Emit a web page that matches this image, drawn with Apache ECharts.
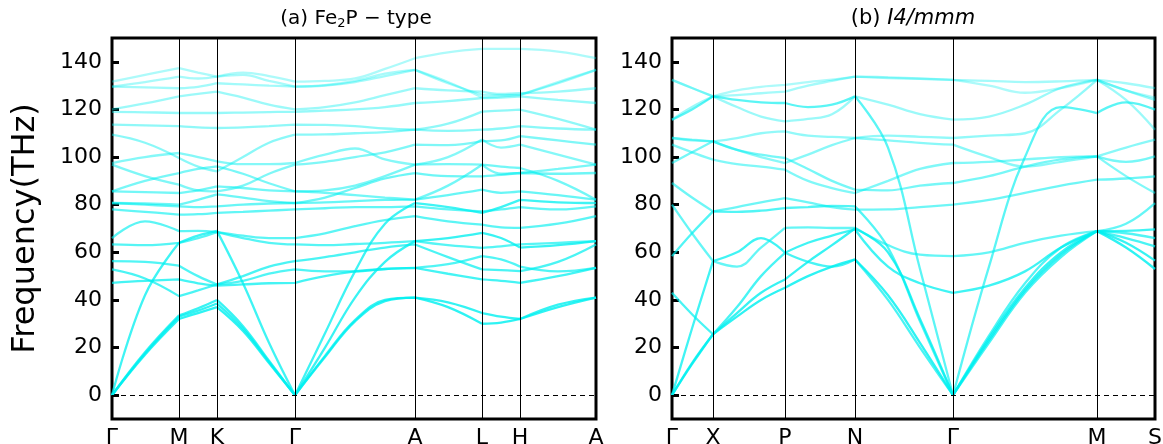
<!DOCTYPE html>
<html><head><meta charset="utf-8">
<script src="https://cdn.jsdelivr.net/npm/echarts@6/dist/echarts.min.js"></script>
<style>html,body{margin:0;padding:0;background:#fff}#c{width:1163px;height:444px}</style>
</head><body><div id="c"></div>
<script>
// ---- data ----
const yTicks = [0, 20, 40, 60, 80, 100, 120, 140];

const leftKLabels = ['Γ', 'M', 'K', 'Γ', 'A', 'L', 'H', 'A'];
const leftKPos = [0, 67, 105, 183, 303, 370, 408, 484];
const leftSampleX = [0, 33, 67, 86, 105, 131, 157, 183, 213, 243, 273, 303, 336, 370, 389, 408, 446, 484];

const lb01 = [0, 17, 32, 34.5, 37, 27, 13.5, 0, 16, 31, 39.5, 41, 37, 30, 30.5, 32, 37, 41];
const lb02 = [0, 17.5, 33, 35.5, 38.5, 28, 14, 0, 16.5, 31.5, 40, 41, 39, 34.5, 33, 32, 38, 41];
const lb03 = [0, 18, 33.5, 36.5, 40, 29, 14.5, 0, 20, 41, 56, 64.7, 66, 68.2, 66, 62, 63, 64.7];
const lb04 = [0, 42, 64, 67, 69, 47, 22, 0, 26, 52, 72, 80.7, 79, 76.6, 79, 82, 81, 80.7];
const lb05 = [47.2, 48, 48.6, 47, 46, 46.5, 47, 47.2, 50, 52, 53, 53.5, 51, 48.6, 48, 47.2, 50, 53.5];
const lb06 = [52.8, 49, 41.6, 44, 46.5, 50, 54, 56.3, 58, 60, 62, 63.3, 58, 52.8, 52.5, 52.1, 56, 63.3];
const lb07 = [56.3, 56, 54.4, 50, 46.5, 48, 51, 52.8, 52, 52, 53, 53.5, 55, 58.4, 57, 54, 52, 53.5];
const lb08 = [63.3, 63, 64, 66, 68.5, 66, 64, 63.3, 63, 63.5, 64, 64.7, 63, 61.9, 62.5, 63.3, 64, 64.7];
const lb09 = [66, 73, 68.9, 69, 68.5, 67, 66, 66, 68, 71, 73.5, 75.2, 73, 71.6, 70.5, 70.3, 72, 75.2];
const lb10 = [78, 77, 75.8, 76, 76.6, 77, 77.5, 78, 78.5, 79, 79, 79.3, 78, 77.2, 78, 79, 78, 79.3];
const lb11 = [80.7, 80, 79.3, 79, 79.3, 80, 80.5, 80.7, 81, 81.5, 82, 82.1, 84, 86.3, 85, 85.6, 84, 82.1];
const lb12 = [80.7, 80.5, 80, 82, 84.3, 83, 81.5, 80.7, 83, 87, 91, 93.3, 92, 91.9, 92.5, 93.3, 93, 93.3];
const lb13 = [85.6, 85.3, 84.9, 86, 87.7, 87, 86, 85.6, 85, 84, 83, 82.1, 88, 96.8, 96, 95.4, 90, 82.1];
const lb14 = [85.6, 90, 93.3, 95, 96.1, 93, 89, 85.6, 86, 88, 92, 96.8, 97, 96.8, 93, 93.3, 95, 96.8];
const lb15 = [96.8, 92, 88.4, 86, 85.6, 88, 93, 96.8, 98, 100, 102, 105.2, 105, 106.7, 107, 108.8, 107, 105.2];
const lb16 = [97.5, 100, 101.7, 100, 98.2, 97, 97, 97.5, 101, 103.6, 99, 96.8, 100, 107.4, 104, 105.2, 101, 96.8];
const lb17 = [109.4, 106, 99.6, 96, 94, 100, 106, 109.4, 109.5, 110, 110.5, 111.5, 111, 111.5, 112, 113, 112, 111.5];
const lb18 = [113.6, 113.3, 113, 112.5, 112.2, 112.5, 113, 113.6, 113.5, 113, 112, 111.5, 114, 119.1, 119.5, 119.9, 116, 111.5];
const lb19 = [119, 118.8, 118.5, 118.5, 118.5, 118.7, 118.9, 119, 119.5, 120, 121, 122.7, 123.5, 124.8, 125, 125.5, 124, 122.7];
const lb20 = [120, 122.5, 125.5, 126.5, 127.5, 125, 122, 120, 121, 123, 126, 128.9, 128, 127.5, 126.5, 126.8, 127.5, 128.9];
const lb21 = [129.6, 129.3, 128.9, 129.5, 131, 130.5, 130, 129.6, 130, 131.5, 134, 136.6, 131, 126.2, 126, 126.2, 131, 136.6];
const lb22 = [129.6, 131.5, 133.8, 133, 133.8, 134.5, 132, 129.6, 130.2, 132, 135, 136.6, 131.5, 125, 125.5, 126, 131.5, 136.6];
const lb23 = [131.7, 134.5, 137.3, 135.5, 133.8, 135.5, 134, 131.7, 132, 133, 137, 141.5, 144, 145.4, 145.4, 145.4, 144.3, 141.5];
const leftBands = [lb01, lb02, lb03, lb04, lb05, lb06, lb07, lb08, lb09, lb10, lb11, lb12,
  lb13, lb14, lb15, lb16, lb17, lb18, lb19, lb20, lb21, lb22, lb23];

const rightKLabels = ['Γ', 'X', 'P', 'N', 'Γ', 'M', 'S'];
const rightKPos = [0, 41, 113, 183, 281, 425, 483];
const rightSampleX = [0, 20, 41, 65, 89, 113, 136, 160, 183, 216, 248, 281, 317, 353, 389, 425, 454, 483];

const rb01 = [0, 13, 25.6, 33, 40, 45.1, 50, 54, 57, 42, 22, 0, 23, 44, 59, 68.9, 62, 53];
const rb02 = [0, 13.5, 25.6, 34.5, 43, 48.6, 56, 63, 70, 60, 32, 0, 24, 45, 60, 68.9, 64, 56.5];
const rb03 = [0, 28, 56.3, 60, 66, 59.8, 64, 67, 69.6, 54, 47, 43, 46, 52, 62, 68.9, 69, 69.6];
const rb04 = [43, 34, 25.6, 37, 50, 59.8, 56, 54, 57, 40, 20, 0, 22, 43, 58, 68.9, 66, 62.5];
const rb05 = [58.4, 68, 77.2, 77, 77.5, 78.6, 79, 79.5, 79.3, 62, 31, 0, 25, 47, 62, 68.9, 68, 66];
const rb06 = [115.7, 120, 125.5, 124, 123, 122.7, 121, 122, 125.5, 104, 53, 0, 54, 100, 121, 118.5, 123, 119.9];
const rb07 = [80, 68, 56.3, 54, 62, 70.3, 70.5, 70.2, 70.3, 63, 59, 58.4, 60, 64, 67, 68.9, 72, 80.7];
const rb08 = [89.1, 83, 77.2, 79, 81, 82.8, 81, 79, 77.9, 78, 79, 80, 82, 85, 88, 90.5, 91, 91.9];
const rb09 = [97.5, 102, 106.6, 103, 101, 99.6, 95, 90, 86.3, 86, 88, 89.1, 92, 96, 99, 100.3, 98, 100.3];
const rb10 = [105.2, 102, 98.9, 97, 96, 94.7, 90, 87, 84.9, 90, 95, 97.5, 98, 99, 100, 100.3, 92, 84.9];
const rb11 = [108, 107, 106.6, 103, 100, 97.5, 101, 105, 108, 107, 106, 105.2, 100, 96, 98, 100.3, 104, 107.3];
const rb12 = [108, 107.3, 106.6, 108, 110, 110.8, 109, 108.5, 108, 109, 108.5, 108, 109, 110, 120, 132.4, 128, 124];
const rb13 = [115.7, 121, 125.5, 121, 117, 115, 116, 118, 125.5, 122, 118, 115.7, 117, 122, 129, 132.4, 124, 111.5];
const rb14 = [132.4, 129, 125.5, 126, 126.8, 127.5, 130, 132, 133.8, 133.5, 133, 132.4, 132, 131.5, 131.8, 132.4, 131, 128.9];
const rb15 = [132.4, 129, 125.5, 128, 129.5, 130.3, 131.5, 132.5, 133.8, 133.2, 132.8, 132.4, 130, 127, 129, 132.4, 128, 125];
const rightBands = [rb01, rb02, rb03, rb04, rb05, rb06, rb07, rb08, rb09, rb10, rb11, rb12, rb13, rb14, rb15];

// ---- chart ----
const FONT = 'DejaVu Sans';
const chart = echarts.init(document.getElementById('c'), null, {renderer: 'canvas'});

function xAx(gi, kpos, klab) {
  return {
    type: 'value', gridIndex: gi, min: 0, max: kpos[kpos.length - 1],
    axisLine: {show: false}, splitLine: {show: false}, axisTick: {show: false},
    axisLabel: {
      customValues: kpos, showMinLabel: true, showMaxLabel: true, hideOverlap: false,
      formatter: v => klab[kpos.indexOf(v)],
      fontSize: 22, color: '#000', fontFamily: FONT, margin: 8
    }
  };
}
function yAx(gi, withName) {
  return {
    type: 'value', gridIndex: gi, min: -10, max: 150,
    axisLine: {show: false}, splitLine: {show: false},
    axisTick: {show: true, inside: true, length: 7, customValues: yTicks, lineStyle: {color: '#000', width: 3}},
    axisLabel: {customValues: yTicks, color: '#000', fontSize: 22, fontFamily: FONT, margin: 10},
    name: withName ? 'Frequency(THz)' : '', nameLocation: 'middle', nameGap: 70, nameRotate: 90,
    nameTextStyle: {fontSize: 32, fontFamily: FONT, color: '#000'}
  };
}

// split each band at the high-symmetry points so that kinks (e.g. acoustic V at Γ) stay sharp
function bandData(b, xs, kpos) {
  const out = [];
  xs.forEach((x, j) => {
    out.push([x, b[j]]);
    const k = kpos.indexOf(x);
    if (k > 0 && k < kpos.length - 1) {
      out.push([x, '-']);
      out.push([x, b[j]]);
    }
  });
  return out;
}

function bandSeries(bands, xs, gi, kpos) {
  const n = bands.length;
  return bands.map((b, i) => {
    const s = {
      type: 'line', xAxisIndex: gi, yAxisIndex: gi,
      data: bandData(b, xs, kpos), connectNulls: false,
      smooth: 0.4, symbol: 'none', silent: true,
      lineStyle: {width: 2.3, color: 'rgb(0,240,240)', opacity: 0.82 - 0.5 * i / (n - 1)},
      z: 3
    };
    if (i === 0) {
      s.markLine = {
        silent: true, symbol: 'none', animation: false, label: {show: false},
        data: kpos.slice(1, -1).map(x => ({xAxis: x, lineStyle: {color: '#000', width: 1, type: 'solid', opacity: 1}}))
          .concat([{yAxis: 0, lineStyle: {color: '#000', width: 1.2, type: [5, 4], opacity: 1}}])
      };
    }
    return s;
  });
}

const gridBase = {top: 38, height: 381, show: true, borderColor: '#000', borderWidth: 3,
  backgroundColor: 'transparent', containLabel: false, outerBoundsMode: 'none'};
const option = {
  animation: false,
  backgroundColor: '#fff',
  grid: [
    Object.assign({left: 112, width: 484}, gridBase),
    Object.assign({left: 672, width: 483}, gridBase)
  ],
  xAxis: [xAx(0, leftKPos, leftKLabels), xAx(1, rightKPos, rightKLabels)],
  yAxis: [yAx(0, true), yAx(1, false)],
  graphic: [
    {type: 'text', x: 356, y: 19, style: {text: '(a) Fe{s|2}P − type', font: '20px "DejaVu Sans"', fill: '#000', align: 'center', verticalAlign: 'middle',
      rich: {s: {fontSize: 13, fontFamily: FONT, padding: [10, 0, 0, 0]}}}},
    {type: 'text', x: 913, y: 19, style: {text: '(b) {i|I4/mmm}', font: '21px "DejaVu Sans"', fill: '#000', align: 'center', verticalAlign: 'middle',
      rich: {i: {fontSize: 21, fontFamily: FONT, fontStyle: 'italic'}}}}
  ],
  series: bandSeries(leftBands, leftSampleX, 0, leftKPos).concat(bandSeries(rightBands, rightSampleX, 1, rightKPos))
};
chart.setOption(option);
</script></body></html>
